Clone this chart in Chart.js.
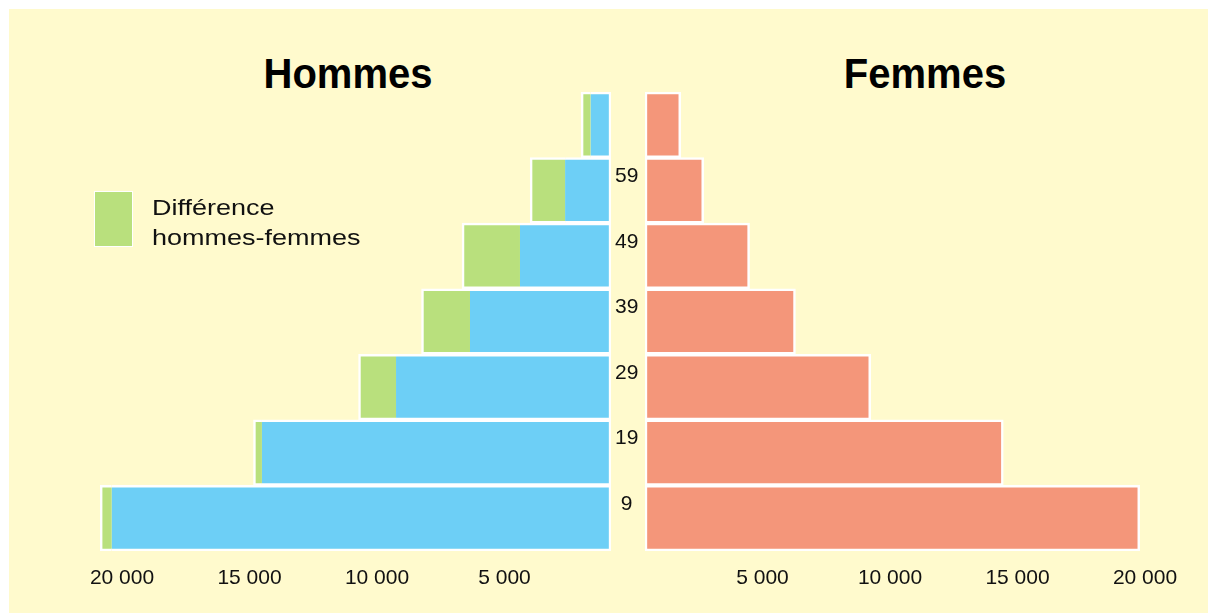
<!DOCTYPE html>
<html>
<head>
<meta charset="utf-8">
<script src="https://cdn.jsdelivr.net/npm/chart.js@4.4.1/dist/chart.umd.min.js"></script>
<style>
  body { margin: 0; width: 1208px; height: 613px; overflow: hidden; background: #fff; font-family: "Liberation Sans", Arial, sans-serif; }
  #panel { position: absolute; left: 9px; top: 9px; width: 1199px; height: 604px; background: #fffacd; }
  canvas { position: absolute; top: 0; }
  #men { left: 0; }
  #women { left: 600px; }
  .title { position: absolute; top: 54px; width: 300px; text-align: center; font-size: 40px; line-height: 40px; font-weight: bold; color: #000; transform: scaleY(1.06); transform-origin: center bottom; }
  #legendBox { position: absolute; left: 94px; top: 191px; width: 37px; height: 54px; background: #b9e07d; border: 1.5px solid #fff; }
  #legendText { position: absolute; left: 152px; top: 193px; font-size: 22.5px; line-height: 30px; color: #111; transform: scaleX(1.2); transform-origin: left top; white-space: nowrap; }
</style>
</head>
<body>
<div id="panel"></div>
<div class="title" style="left:198px">Hommes</div>
<div class="title" style="left:775px">Femmes</div>
<canvas id="men" width="660" height="613"></canvas>
<canvas id="women" width="608" height="613"></canvas>
<div id="legendBox"></div>
<div id="legendText">Différence<br>hommes-femmes</div>
<script>
// Age groups, top (oldest) to bottom (youngest)
const ageGroups = ['60-69', '50-59', '40-49', '30-39', '20-29', '10-19', '0-9'];
const ageTicks = ['', '59', '49', '39', '29', '19', '9'];
// Values
const hommes = [800, 1800, 3570, 5530, 8430, 13690, 19580];
const difference = [370, 1370, 2270, 1900, 1470, 330, 450];
const femmes = [1400, 2300, 4100, 5900, 8850, 14050, 19400];
const tickValues = [5000, 10000, 15000, 20000];

Chart.defaults.font.family = '"Liberation Sans", Arial, sans-serif';
Chart.defaults.color = '#111';

const fmt = v => String(v).replace(/\B(?=(\d{3})+(?!\d))/g, ' ');
const bw = 2.5;

function xAxis(reverse, max, offset) {
    return {
        stacked: true, reverse, min: 0, max,
        grid: {display: false, drawTicks: false},
        border: {display: false},
        afterBuildTicks: s => { s.ticks = tickValues.map(v => ({value: v})); },
        afterFit: s => { s.height = 40; },
        ticks: {padding: 15, labelOffset: offset, font: {size: 21}, maxRotation: 0, autoSkip: false, callback: v => fmt(v)}
    };
}

new Chart(document.getElementById('men'), {
    type: 'bar',
    data: {
        labels: ageGroups,
        datasets: [
            {label: 'Hommes', data: hommes, backgroundColor: '#6dcff6', borderColor: '#fff',
             borderWidth: {top: bw, bottom: bw, right: bw, left: 0}, borderSkipped: false},
            {label: 'Différence hommes-femmes', data: difference, backgroundColor: '#b9e07d', borderColor: '#fff',
             borderWidth: {top: bw, bottom: bw, left: bw, right: 0}, borderSkipped: false}
        ]
    },
    options: {
        indexAxis: 'y', responsive: false, animation: false,
        categoryPercentage: 1, barPercentage: 1,
        layout: {padding: {left: 75.5, right: 15, top: 92, bottom: 22}},
        plugins: {legend: {display: false}, tooltip: {enabled: false}},
        scales: {
            x: xAxis(true, 21000, 21),
            y: {
                stacked: true, position: 'right',
                grid: {display: false, drawTicks: false}, border: {display: false},
                afterFit: s => { s.width = 34; },
                ticks: {font: {size: 21}, padding: 4, crossAlign: 'center', labelOffset: -14,
                        autoSkip: false, callback: (v, i) => ageTicks[i]}
            }
        }
    }
});

new Chart(document.getElementById('women'), {
    type: 'bar',
    data: {
        labels: ageGroups,
        datasets: [
            {label: 'Femmes', data: femmes, backgroundColor: '#f4967a', borderColor: '#fff',
             borderWidth: bw, borderSkipped: false}
        ]
    },
    options: {
        indexAxis: 'y', responsive: false, animation: false,
        categoryPercentage: 1, barPercentage: 1,
        layout: {padding: {left: 45, right: 14.75, top: 92, bottom: 22}},
        plugins: {legend: {display: false}, tooltip: {enabled: false}},
        scales: {
            x: xAxis(false, 21500, -10),
            y: {display: false}
        }
    }
});
</script>
</body>
</html>
